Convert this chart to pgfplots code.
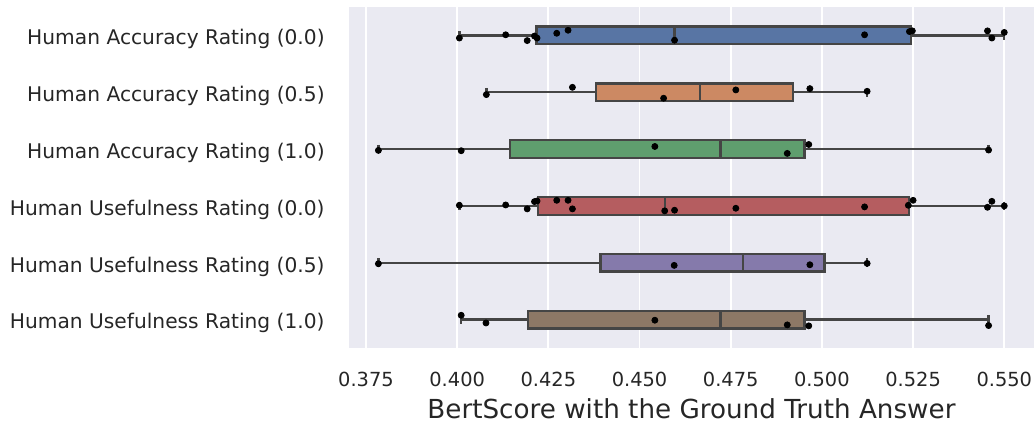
\documentclass[border=0pt]{standalone}
\usepackage{pgfplots}
\pgfplotsset{compat=1.18}
\usepgfplotslibrary{statistics}
\usepackage{fontspec}
\setmainfont{DejaVu Sans}
\definecolor{bgc}{HTML}{EAEAF2}
\definecolor{tc}{HTML}{262626}
\definecolor{eg}{HTML}{454545}
\definecolor{c1}{HTML}{5875A4}
\definecolor{c2}{HTML}{CC8963}
\definecolor{c3}{HTML}{5F9E6E}
\definecolor{c4}{HTML}{B55D60}
\definecolor{c5}{HTML}{857AAB}
\definecolor{c6}{HTML}{8D7866}
\begin{document}
\begin{tikzpicture}
\begin{axis}[
  at={(0,0)}, anchor=south west,
  scale only axis, width=342.5pt, height=170.5pt,
  xmin=0.37034, xmax=0.55815, ymin=-0.5, ymax=5.5, y dir=reverse,
  axis background/.style={fill=bgc},
  axis line style={draw=none},
  major tick length=0pt, tick style={draw=none},
  xtick={0.375,0.4,0.425,0.45,0.475,0.5,0.525,0.55},
  xticklabels={0.375,0.400,0.425,0.450,0.475,0.500,0.525,0.550},
  xmajorgrids, ymajorgrids=false,
  major grid style={white, line width=0.9pt},
  ytick={0,1,2,3,4,5},
  yticklabels={Human Accuracy Rating (0.0),Human Accuracy Rating (0.5),Human Accuracy Rating (1.0),Human Usefulness Rating (0.0),Human Usefulness Rating (0.5),Human Usefulness Rating (1.0)},
  xticklabel style={font=\fontsize{9.7}{11}\selectfont, text=tc, anchor=base, inner sep=0pt, yshift=-19pt},
  yticklabel style={font=\fontsize{10.1}{12}\selectfont, text=tc, anchor=base east, inner sep=0pt, xshift=-12pt, yshift=-4.7pt},
  every axis x label/.style={at={(axis description cs:0.5,0)}, anchor=base, inner sep=0pt, yshift=-35.2pt, font=\fontsize{13.1}{15}\selectfont, text=tc},
  xlabel={BertScore with the Ground Truth Answer},
  boxplot/draw direction=x,
  clip=false,
]
% boxes
\addplot[boxplot prepared={draw position=0, lower whisker=0.4006, lower quartile=0.4217, median=0.4596, upper quartile=0.5244, upper whisker=0.5500, box extend=0.31, whisker extend=0.15}, draw=eg, fill=c1, line width=1.2pt] coordinates {};
\addplot[boxplot prepared={draw position=1, lower whisker=0.4080, lower quartile=0.4381, median=0.4666, upper quartile=0.4921, upper whisker=0.5124, box extend=0.31, whisker extend=0.15}, draw=eg, fill=c2, line width=1.2pt] coordinates {};
\addplot[boxplot prepared={draw position=2, lower whisker=0.3784, lower quartile=0.4145, median=0.4722, upper quartile=0.4952, upper whisker=0.5457, box extend=0.31, whisker extend=0.15}, draw=eg, fill=c3, line width=1.2pt] coordinates {};
\addplot[boxplot prepared={draw position=3, lower whisker=0.4006, lower quartile=0.4222, median=0.4569, upper quartile=0.5239, upper whisker=0.5500, box extend=0.31, whisker extend=0.15}, draw=eg, fill=c4, line width=1.2pt] coordinates {};
\addplot[boxplot prepared={draw position=4, lower whisker=0.3784, lower quartile=0.4393, median=0.4784, upper quartile=0.5007, upper whisker=0.5124, box extend=0.31, whisker extend=0.15}, draw=eg, fill=c5, line width=1.2pt] coordinates {};
\addplot[boxplot prepared={draw position=5, lower whisker=0.4011, lower quartile=0.4194, median=0.4722, upper quartile=0.4952, upper whisker=0.5457, box extend=0.31, whisker extend=0.15}, draw=eg, fill=c6, line width=1.2pt] coordinates {};
% points
\pgfplotsset{pts/.style={only marks, mark=*, mark size=1.5pt, mark options={draw=black, fill=black}}}
\addplot[pts] coordinates {(0.4006,0.046) (0.4133,-0.011) (0.4192,0.091) (0.4212,0.011) (0.4219,0.046) (0.4273,-0.038) (0.4304,-0.091) (0.4596,0.084) (0.5117,-0.011) (0.5240,-0.068) (0.5248,-0.080) (0.5454,-0.080) (0.5466,0.046) (0.5500,-0.053)};
\addplot[pts] coordinates {(0.4080,1.041) (0.4316,0.913) (0.4566,1.105) (0.4764,0.959) (0.4967,0.936) (0.5124,0.983)};
\addplot[pts] coordinates {(0.3784,2.023) (0.4011,2.029) (0.4542,1.954) (0.4905,2.076) (0.4964,1.919) (0.5457,2.017)};
\addplot[pts] coordinates {(0.4006,2.989) (0.4133,2.983) (0.4192,3.052) (0.4212,2.924) (0.4219,2.913) (0.4273,2.901) (0.4304,2.901) (0.4316,3.052) (0.4569,3.087) (0.4596,3.076) (0.4764,3.041) (0.5117,3.017) (0.5237,2.989) (0.5250,2.901) (0.5454,3.024) (0.5466,2.919) (0.5500,3.000)};
\addplot[pts] coordinates {(0.3784,4.017) (0.4595,4.046) (0.4967,4.035) (0.5124,4.011)};
\addplot[pts] coordinates {(0.4011,4.924) (0.4079,5.059) (0.4542,5.011) (0.4905,5.093) (0.4964,5.110) (0.5457,5.105)};
\end{axis}
\pgfresetboundingbox
\useasboundingbox (-174.5pt,-38pt) rectangle (342.5pt,174pt);
\end{tikzpicture}
\end{document}
